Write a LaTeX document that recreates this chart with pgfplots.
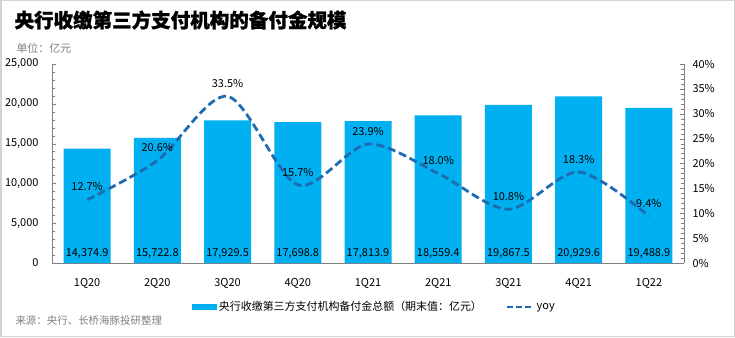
\documentclass[border=0pt]{standalone}
\usepackage{pgfplots}
\pgfplotsset{compat=1.18}
\usepackage{fontspec}
\setmainfont{Noto Sans CJK SC}
\newfontfamily\titlefont[BoldFeatures={FakeBold=1.2}]{Noto Sans CJK SC}
\definecolor{barblue}{HTML}{00B0F0}
\definecolor{lineblue}{HTML}{1F6BB0}
\definecolor{axgray}{HTML}{808080}
\pgfplotsset{mylinelegend/.style={legend image code/.code={\draw[##1] (0bp,0bp) -- (26bp,0bp);}}}
\begin{document}
\begin{tikzpicture}[x=1bp,y=1bp]
\path[use as bounding box] (0,0) rectangle (735,337);
\draw[gray!35, line width=1.5bp] (0.75,0.75) rectangle (734.25,336.25);
\node[anchor=west, font=\fontsize{19.6}{22}\selectfont\titlefont\bfseries] at (11,317) {央行收缴第三方支付机构的备付金规模};
\node[anchor=west, font=\fontsize{11}{13}\selectfont, text=gray] at (13,289) {单位：亿元};
\node[anchor=west, font=\fontsize{10.5}{12}\selectfont, text=gray] at (12,16) {来源：央行、长桥海豚投研整理};
\begin{axis}[
  at={(52bp,74bp)}, anchor=south west,
  scale only axis, width=632bp, height=199bp,
  xmin=-0.5, xmax=8.5, ymin=0, ymax=25000,
  axis y line*=left, axis x line*=bottom,
  axis line style={axgray, line width=0.8pt, -},
  xtick=data,
  xticklabels={1Q20,2Q20,3Q20,4Q20,1Q21,2Q21,3Q21,4Q21,1Q22},
  major x tick style={draw=none},
  ytick={0,5000,10000,15000,20000,25000},
  minor y tick num=4,
  tick style={axgray},
  tick align=inside,
  major tick length=4bp, minor tick length=3bp,
  tick label style={font=\fontsize{11}{13}\selectfont},
  /pgf/number format/assume math mode=true,
  /pgf/number format/1000 sep={,},
  scaled y ticks=false,
  xticklabel style={yshift=-12bp},
  yticklabel style={xshift=-10bp},
  legend style={at={(0.51,-0.221)}, anchor=center, draw=none, font=\fontsize{11}{13}\selectfont, legend columns=2, /tikz/every even column/.append style={column sep=22bp}},
  legend image code/.code={\fill[#1] (0bp,-3bp) rectangle (25bp,3bp);},
  clip=false,
]
\addplot[ybar, bar width=47bp, fill=barblue, draw=none,
  visualization depends on=y \as \rawy,
  nodes near coords={\pgfmathprintnumber[fixed, fixed zerofill, precision=1, 1000 sep={,}, assume math mode=true]{\pgfplotspointmeta}},
  point meta=y,
  every node near coord/.append style={shift={(axis direction cs:0,-\rawy)}, anchor=base, yshift=7bp, font=\fontsize{11}{13}\selectfont, text=black},
] coordinates {
(0,14374.9) (1,15722.8) (2,17929.5) (3,17698.8) (4,17813.9) (5,18559.4) (6,19867.5) (7,20929.6) (8,19488.9)
};
\addlegendentry{央行收缴第三方支付机构备付金总额（期末值：亿元）}
\addlegendimage{mylinelegend, lineblue, line width=2.8bp, dash pattern=on 6bp off 3bp}
\addlegendentry{yoy}
\end{axis}
\begin{axis}[
  at={(52bp,74bp)}, anchor=south west,
  scale only axis, width=632bp, height=199bp,
  xmin=-0.5, xmax=8.5, ymin=0, ymax=40,
  axis y line*=right, axis x line=none,
  axis line style={axgray, line width=0.8pt, -},
  ytick={0,5,...,40},
  minor y tick num=4,
  tick style={axgray},
  tick align=inside,
  major tick length=4bp, minor tick length=3bp,
  tick label style={font=\fontsize{11}{13}\selectfont},
  /pgf/number format/assume math mode=true,
  yticklabel={\pgfmathprintnumber{\tick}\%},
  yticklabel style={xshift=5bp},
  clip=false,
]
\addplot[lineblue, line width=2.8bp, dash pattern=on 8bp off 4bp, smooth, mark=none,
  nodes near coords={\pgfmathprintnumber[fixed, fixed zerofill, precision=1, assume math mode=true]{\pgfplotspointmeta}\%},
  point meta=y,
  every node near coord/.append style={anchor=south, yshift=4bp, font=\fontsize{11}{13}\selectfont, text=black, solid},
] coordinates {
(0,12.7) (1,20.6) (2,33.5) (3,15.7) (4,23.9) (5,18.0) (6,10.8) (7,18.3) (8,9.4)
};
\end{axis}
\end{tikzpicture}
\end{document}
